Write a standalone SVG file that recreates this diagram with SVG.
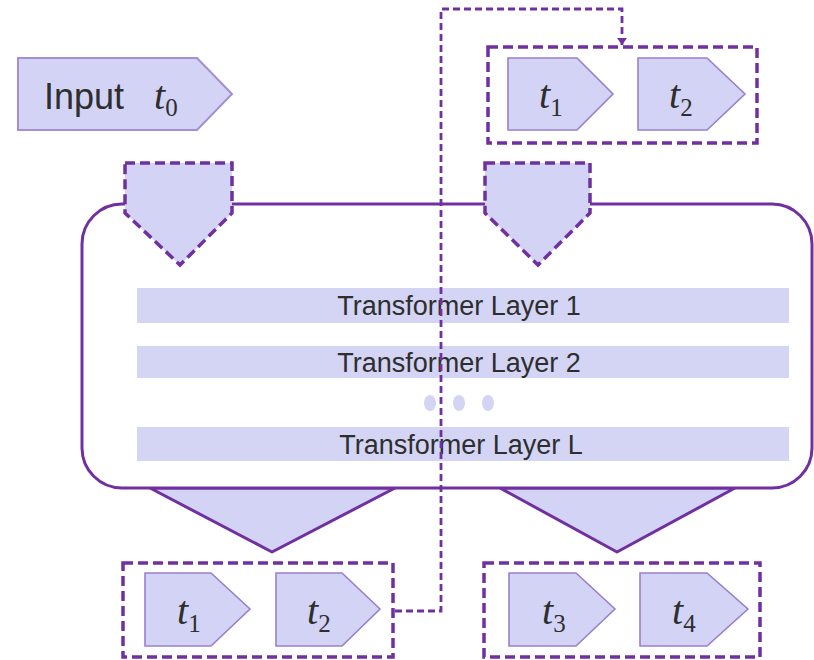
<svg xmlns="http://www.w3.org/2000/svg" width="814" height="660" viewBox="0 0 814 660">
<style>
.tok{fill:#d3d3f5;stroke:#9a80cc;stroke-width:1.6}
.dbox{fill:none;stroke:#7030a0;stroke-width:3.5;stroke-dasharray:10 5}
.dpent{fill:#d3d3f5;stroke:#7030a0;stroke-width:3.5;stroke-dasharray:10 5}
.bar{fill:#d4d4f5}
.lt{font-family:"Liberation Sans",Arial,sans-serif;font-size:27px;fill:#2e2e2e;text-anchor:middle}
.tt{font-family:"Liberation Serif","DejaVu Serif",serif;font-style:italic;font-size:40px;fill:#2e2e2e}
.sub{font-size:25px;font-style:normal}
.conn{fill:none;stroke:#7030a0;stroke-width:2.8;stroke-dasharray:7 4}
</style>
<defs>
<marker id="ah" markerWidth="10" markerHeight="10" refX="5" refY="9" orient="0" markerUnits="userSpaceOnUse">
<path d="M0,2 L10,2 L5,9 Z" fill="#7030a0"/>
</marker>
</defs>
<g id="input">
<path d="M18,58 H197 L232,94 L197,130 H18 Z" fill="#d3d3f5" stroke="#a58ed4" stroke-width="2"/>
<text x="44" y="109" font-family="Liberation Sans,Arial,sans-serif" font-size="36" fill="#2e2e2e">Input</text>
<text x="154" y="109" class="tt">t<tspan class="sub" dy="7">0</tspan></text>
</g>
<g id="model">
<path d="M150,488 L272,552 L395,488 Z" fill="#d3d3f5" stroke="#7030a0" stroke-width="3" stroke-linejoin="round"/>
<path d="M500,488 L617,552 L735,488 Z" fill="#d3d3f5" stroke="#7030a0" stroke-width="3" stroke-linejoin="round"/>
<rect x="82" y="204" width="730" height="284" rx="40" ry="40" fill="#fff" stroke="#7030a0" stroke-width="3"/>
</g>
<g id="in-left"><path class="dpent" d="M125,163 H232 V213 L180,265 L125,213 Z"/></g>
<g id="in-right"><path class="dpent" d="M485,163 H590 V213 L538,265 L485,213 Z"/></g>
<g id="layer1"><rect class="bar" x="137" y="288" width="652" height="35"/><text class="lt" x="459" y="315">Transformer Layer 1</text></g>
<g id="layer2"><rect class="bar" x="137" y="346" width="652" height="32"/><text class="lt" x="459" y="372">Transformer Layer 2</text></g>
<g id="dots"><ellipse cx="430" cy="403" rx="6" ry="8" fill="#d4d4f5"/><ellipse cx="459" cy="403" rx="6" ry="8" fill="#d4d4f5"/><ellipse cx="488" cy="403" rx="6" ry="8" fill="#d4d4f5"/></g>
<g id="layerL"><rect class="bar" x="137" y="427" width="652" height="34"/><text class="lt" x="461" y="454">Transformer Layer L</text></g>
<g id="out-top">
<rect class="dbox" x="488" y="47" width="269" height="96"/>
<path class="tok" d="M508,58 H577 L613,94 L577,130 H508 Z"/>
<text class="tt" x="539" y="108">t<tspan class="sub" dy="8">1</tspan></text>
<path class="tok" d="M638,58 H707 L745,94 L707,130 H638 Z"/>
<text class="tt" x="669" y="108">t<tspan class="sub" dy="8">2</tspan></text>
</g>
<g id="out-left">
<rect class="dbox" x="123" y="563" width="270" height="94"/>
<path class="tok" d="M145,573 H211 L250,609 L211,646 H145 Z"/>
<text class="tt" x="177" y="624">t<tspan class="sub" dy="8">1</tspan></text>
<path class="tok" d="M276,573 H342 L380,609 L342,646 H276 Z"/>
<text class="tt" x="307" y="624">t<tspan class="sub" dy="8">2</tspan></text>
</g>
<g id="out-right">
<rect class="dbox" x="484" y="563" width="276" height="94"/>
<path class="tok" d="M509,573 H576 L615,609 L576,646 H509 Z"/>
<text class="tt" x="542" y="624">t<tspan class="sub" dy="8">3</tspan></text>
<path class="tok" d="M640,573 H707 L748,609 L707,646 H640 Z"/>
<text class="tt" x="672" y="624">t<tspan class="sub" dy="8">4</tspan></text>
</g>
<g id="connectors">
<path class="conn" d="M395,611 H441 V9 H622 V45" marker-end="url(#ah)"/>
</g>
</svg>
